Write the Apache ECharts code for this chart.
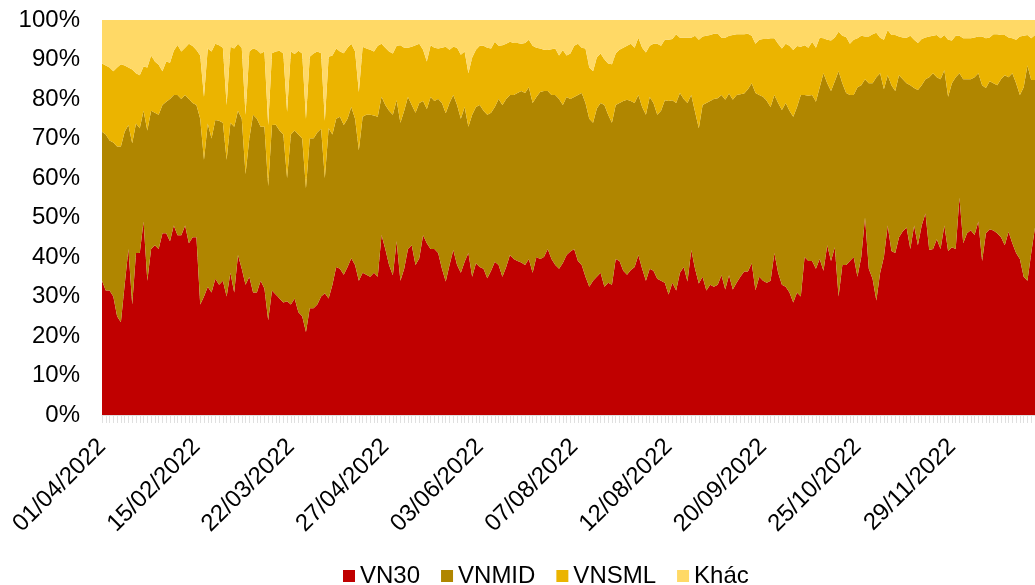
<!DOCTYPE html>
<html>
<head>
<meta charset="utf-8">
<script src="https://cdn.jsdelivr.net/npm/echarts@6/dist/echarts.min.js"></script>
<style>
  html, body { margin: 0; padding: 0; background: #fff; }
  #chart { width: 1035px; height: 585px; }
</style>
</head>
<body>
<div id="chart"></div>
<script>
// nhãn trục X (mỗi 25 phiên hiện 1 nhãn)
const tickLabels = ['01/04/2022', '15/02/2022', '22/03/2022', '27/04/2022', '03/06/2022',
  '07/08/2022', '12/08/2022', '20/09/2022', '25/10/2022', '29/11/2022']
const labelStep = 25

// tỷ trọng GTGD theo nhóm (%)
const vn30 = [
  34, 31.5, 31.5, 30, 25, 23.5, 33, 42, 28, 41, 41, 49, 34, 42, 43, 42, 46, 46, 44, 48, 45.5, 45.5, 48, 43.5, 45,
  45, 28, 30, 32.5, 31, 34.5, 33, 34, 30, 36, 31, 40.5, 37, 33, 35, 31, 31, 34, 32, 24, 31.5, 30.5, 29.5, 28.5, 28.8,
  28, 29.5, 26, 25, 21, 27, 27, 28, 30, 30.8, 29.5, 33, 37.5, 37, 35.5, 37.5, 39.7, 38, 34, 36, 35.5, 35, 36, 35, 45.6,
  42, 38, 35.4, 44, 34, 37, 42, 43, 38, 39.7, 45.5, 43.5, 42, 42, 41, 37, 33.8, 38, 41.8, 38, 36, 38.8, 41, 35, 38.4,
  37.5, 37, 34.6, 36.5, 38.8, 38, 35, 37.5, 40.5, 39.5, 39, 38.6, 38, 39.5, 36, 40, 39.5, 40, 42, 39.5, 38, 37, 38.5, 40.5, 41.4,
  42, 39, 38, 35, 32.5, 34, 35, 36, 32.5, 33.5, 33, 39.5, 39, 36.5, 35.5, 36.7, 37.5, 40.5, 37, 34, 37, 36.5, 34.5, 34, 33.5,
  30.5, 33.5, 31.5, 36, 37.5, 33.8, 41.8, 37, 33.3, 35, 31.5, 33, 32.5, 33, 35.4, 31.8, 35.4, 31.8, 33.5, 35, 36.3, 36.3, 38.4, 31.6, 35,
  34, 33.5, 34, 41, 36, 33, 32.5, 31, 28.5, 31, 30, 40, 39, 39, 37, 39.5, 36.5, 43, 39, 42.5, 30, 38, 38, 39, 40,
  35, 40, 50, 37, 34.5, 29, 36, 40, 48, 41.5, 41, 45, 46.5, 47.5, 42, 48, 43, 48, 51, 41.8, 42, 44.5, 42, 48, 41.5,
  42.5, 42, 55, 43.5, 46, 46.8, 45.6, 49, 39, 46, 47, 46.7, 46, 45, 43, 46.4, 43.5, 41, 39.5, 35, 34, 41, 47.5
]
const vnmid = [
  37.7, 39.5, 38, 39, 43, 44.5, 38.7, 31.4, 40.8, 32.8, 31.6, 28, 38, 35, 33.5, 34, 32.5, 33.3, 36, 33, 35.5, 34.5, 33, 36.5, 34,
  33.5, 47, 34.6, 41.3, 39, 40.2, 41.5, 40, 34.6, 38, 42, 36.5, 38, 28, 35, 45, 44, 39, 41, 34, 41.9, 43, 42.5, 42.5, 31.2,
  43, 42.5, 45, 45, 36.4, 43, 43, 43.5, 42.5, 29.2, 43.1, 38, 37.5, 38.5, 37.9, 37.5, 38.3, 37, 33, 39.5, 40.5, 41, 39.8, 40.5, 35,
  36.5, 39, 40.6, 35.7, 40, 40, 38.5, 35.5, 38.5, 39.3, 34, 34, 38.5, 37.5, 39, 42, 42.6, 41, 39.2, 40.5, 39, 39.2, 32, 41, 39.6,
  41, 40, 41.4, 40, 39.2, 42, 43.5, 42.5, 40.5, 41.5, 42.5, 43.4, 43.5, 43.5, 43, 40.5, 42.3, 42, 40, 41.5, 43, 43, 40, 40, 38.6,
  38.5, 42, 43.5, 44, 42.5, 40, 42.6, 43, 46, 42.5, 41, 39, 40, 43, 44.3, 42.8, 41.5, 40.5, 41, 42, 43.5, 42.5, 41.5, 43, 46.2,
  49, 46.2, 47.5, 45.5, 42.5, 45.2, 39.2, 39.8, 39.3, 43.5, 47.5, 46.5, 47.5, 47.2, 45.6, 48, 46, 48, 47.5, 46.2, 45.1, 46.2, 45.6, 49.9, 46,
  46.6, 46, 44, 40, 43, 44.2, 46.5, 46, 47, 47, 51, 41, 41.8, 42, 42.3, 43.5, 50, 41, 43, 42, 57, 46, 43.5, 42, 41,
  48, 43.5, 35, 47, 49.5, 56.5, 50.5, 42.5, 38, 42, 41, 41, 38.5, 36.5, 41.5, 34.8, 39.3, 35.5, 34, 43.7, 44.5, 41, 43, 39.3, 39.1,
  41.5, 43.5, 31.5, 41.5, 39, 38.2, 39.9, 37.5, 44.5, 36.8, 37.5, 37.3, 37.5, 40, 43, 39.1, 43, 43, 41.5, 48, 54.5, 43.8, 37.3
]
const vnsml = [
  17.3, 17.5, 18.5, 18, 20, 20.8, 16.8, 14.6, 18.7, 12.7, 13.4, 11.2, 16, 14, 13, 12.7, 8.5, 10.2, 9.2, 11.2, 12.7, 12, 12, 14, 14.4,
  13.9, 16, 16, 19, 22, 19.3, 19.1, 19, 13.9, 19.2, 19.8, 17, 18, 15, 22, 16.8, 17.5, 18.5, 19, 15.4, 18.2, 18.5, 20.2, 20.5, 16.8,
  21, 19.4, 21.2, 21.5, 17.6, 20.7, 21.5, 20.5, 19.1, 14.5, 18.1, 20, 17.8, 16.5, 18.2, 18, 16, 17, 14.8, 17.7, 16.8, 16.5, 16.2, 18, 13.4,
  14.5, 15, 15.5, 13.8, 19.6, 16, 12.5, 14.7, 17.1, 15, 13, 12, 13.1, 13.5, 12.8, 14, 16.8, 13.5, 12.2, 14.5, 16.2, 14, 13.5, 14.5, 14.5,
  15, 16.5, 17, 16.3, 16.5, 13.5, 15.1, 14, 13.5, 13.2, 12.7, 12, 12.7, 12, 14.5, 12.5, 11, 10.5, 10.4, 11.6, 11.8, 11, 13.9, 10.5, 11.5,
  13, 13, 11.5, 13.8, 13, 13, 12.9, 12.5, 11.5, 13, 14.8, 13, 13.5, 13.5, 13.7, 14.5, 14, 14.5, 15, 15.8, 13, 15, 18, 16.5, 15.3,
  15.5, 15.5, 17.4, 14, 15.5, 16.5, 14.5, 19.2, 22.4, 17.3, 17, 16.7, 16.5, 16.4, 14.5, 15.7, 14.6, 16.4, 15.4, 15.2, 15, 14, 12, 12.5, 14,
  14.6, 15.7, 17.4, 14.4, 15, 15.6, 15, 16.5, 16.9, 15.4, 12.2, 12.6, 12.2, 13.5, 13.7, 12.5, 8.9, 11, 12.8, 11.1, 10, 12, 14.2, 13, 14,
  12.4, 12.5, 10.8, 11.8, 12.4, 11.3, 9, 12.5, 11.5, 12.7, 14.2, 9.8, 10.6, 11.5, 12.5, 12.2, 11.9, 11.7, 10.6, 10.3, 9.5, 10.7, 10.4, 8.9, 14.4,
  10.8, 10.5, 9.5, 10.4, 10.4, 10.4, 10.1, 9.3, 12.3, 12.6, 11.1, 12.4, 12.9, 11.2, 10.2, 10.1, 8.9, 11, 14.8, 13, 7.7, 10.6, 11.4
]
const khac = [
  11, 11.5, 12, 13, 12, 11.2, 11.5, 12, 12.5, 13.5, 14, 11.8, 12, 9, 10.5, 11.3, 13, 10.5, 10.8, 7.8, 6.3, 8, 7, 6, 6.6,
  7.6, 9, 19.4, 7.2, 8, 6, 6.4, 7, 21.5, 6.8, 7.2, 6, 7, 24, 8, 7.2, 7.5, 8.5, 8, 26.6, 8.4, 8, 7.8, 8.5, 23.2,
  8, 8.6, 7.8, 8.5, 25, 9.3, 8.5, 8, 8.4, 25.5, 9.3, 9, 7.2, 8, 8.4, 7, 6, 8, 18.2, 6.8, 7.2, 7.5, 8, 6.5, 6,
  7, 8, 8.5, 6.5, 6.4, 7, 7, 6.8, 6.4, 6, 7.5, 10.5, 6.4, 7, 7.2, 7, 6.8, 7.5, 6.8, 7, 8.8, 8, 13.5, 9.5, 7.5,
  6.5, 6.5, 7, 7.2, 5.5, 6.5, 6.4, 6, 5.5, 5.8, 5.8, 6, 5.8, 5, 6.5, 7, 7.2, 7.5, 7.6, 7.4, 7.2, 9, 7.6, 9, 8.5,
  6.5, 6, 7, 7.2, 12, 13, 9.5, 8.5, 10, 11, 11.2, 8.5, 7.5, 7, 6.5, 6, 7, 4.5, 7, 8.2, 6.5, 6, 6, 6.5, 5,
  5, 4.8, 3.6, 4.5, 4.5, 4.5, 4.5, 4, 5, 4.2, 4, 3.8, 3.5, 3.4, 4.5, 4.5, 4, 3.8, 3.6, 3.6, 3.6, 3.5, 4, 6, 5,
  4.8, 4.8, 4.6, 4.6, 6, 7.2, 6, 6.5, 7.6, 6.6, 6.8, 6.4, 7, 5.5, 7, 4.5, 4.6, 5, 5.2, 4.4, 3, 4, 4.3, 6, 5,
  4.6, 4, 4.2, 4.2, 3.6, 3.2, 4.5, 5, 2.5, 3.8, 3.8, 4.2, 4.4, 4.5, 4, 5, 5.8, 4.8, 4.4, 4.2, 4, 3.8, 4.6, 3.8, 5,
  5.2, 4, 4, 4.6, 4.6, 4.6, 4.4, 4.2, 4.2, 4.6, 4.4, 3.6, 3.6, 3.8, 3.8, 4.4, 4.6, 5, 4.2, 4, 3.8, 4.6, 3.8
]

// phiên giao dịch (chỉ số), nhãn lấy từ tickLabels
const days = vn30.map((_, i) => i)

const font = 'Liberation Sans, Arial, sans-serif'
const myChart = echarts.init(document.getElementById('chart'))

function areaSeries(name, data, color) {
  return {
    name: name,
    type: 'line',
    stack: 'total',
    data: data,
    color: color,
    showSymbol: false,
    symbol: 'none',
    lineStyle: { width: 0 },
    areaStyle: { color: color, opacity: 1 }
  }
}

const option = {
  animation: false,
  grid: { left: 102, right: 0, top: 20, bottom: 170 },
  legend: {
    top: 559,
    left: 338,
    icon: 'rect',
    itemWidth: 12,
    itemHeight: 12,
    itemGap: 21,
    textStyle: { fontFamily: font, fontSize: 24, color: '#000' },
    data: ['VN30', 'VNMID', 'VNSML', 'Khác']
  },
  xAxis: {
    type: 'category',
    boundaryGap: false,
    data: days,
    axisLine: { show: true, lineStyle: { color: '#e0e0e0' } },
    axisTick: { show: true, interval: 0, length: 8, lineStyle: { color: '#e0e0e0' } },
    axisLabel: {
      interval: labelStep - 1,
      rotate: 45,
      margin: 28,
      fontFamily: font,
      fontSize: 24,
      color: '#000',
      formatter: (v, i) => tickLabels[i / labelStep] || ''
    }
  },
  yAxis: {
    type: 'value',
    min: 0,
    max: 100,
    interval: 10,
    axisLine: { show: false },
    axisTick: { show: false },
    splitLine: { show: true, lineStyle: { color: '#d9d9d9' } },
    axisLabel: {
      formatter: '{value}%',
      margin: 22,
      fontFamily: font,
      fontSize: 24,
      color: '#000'
    }
  },
  series: [
    areaSeries('VN30', vn30, '#C00000'),
    areaSeries('VNMID', vnmid, '#B08600'),
    areaSeries('VNSML', vnsml, '#EBB400'),
    areaSeries('Khác', khac, '#FFD966')
  ]
}
myChart.setOption(option)
</script>
</body>
</html>
